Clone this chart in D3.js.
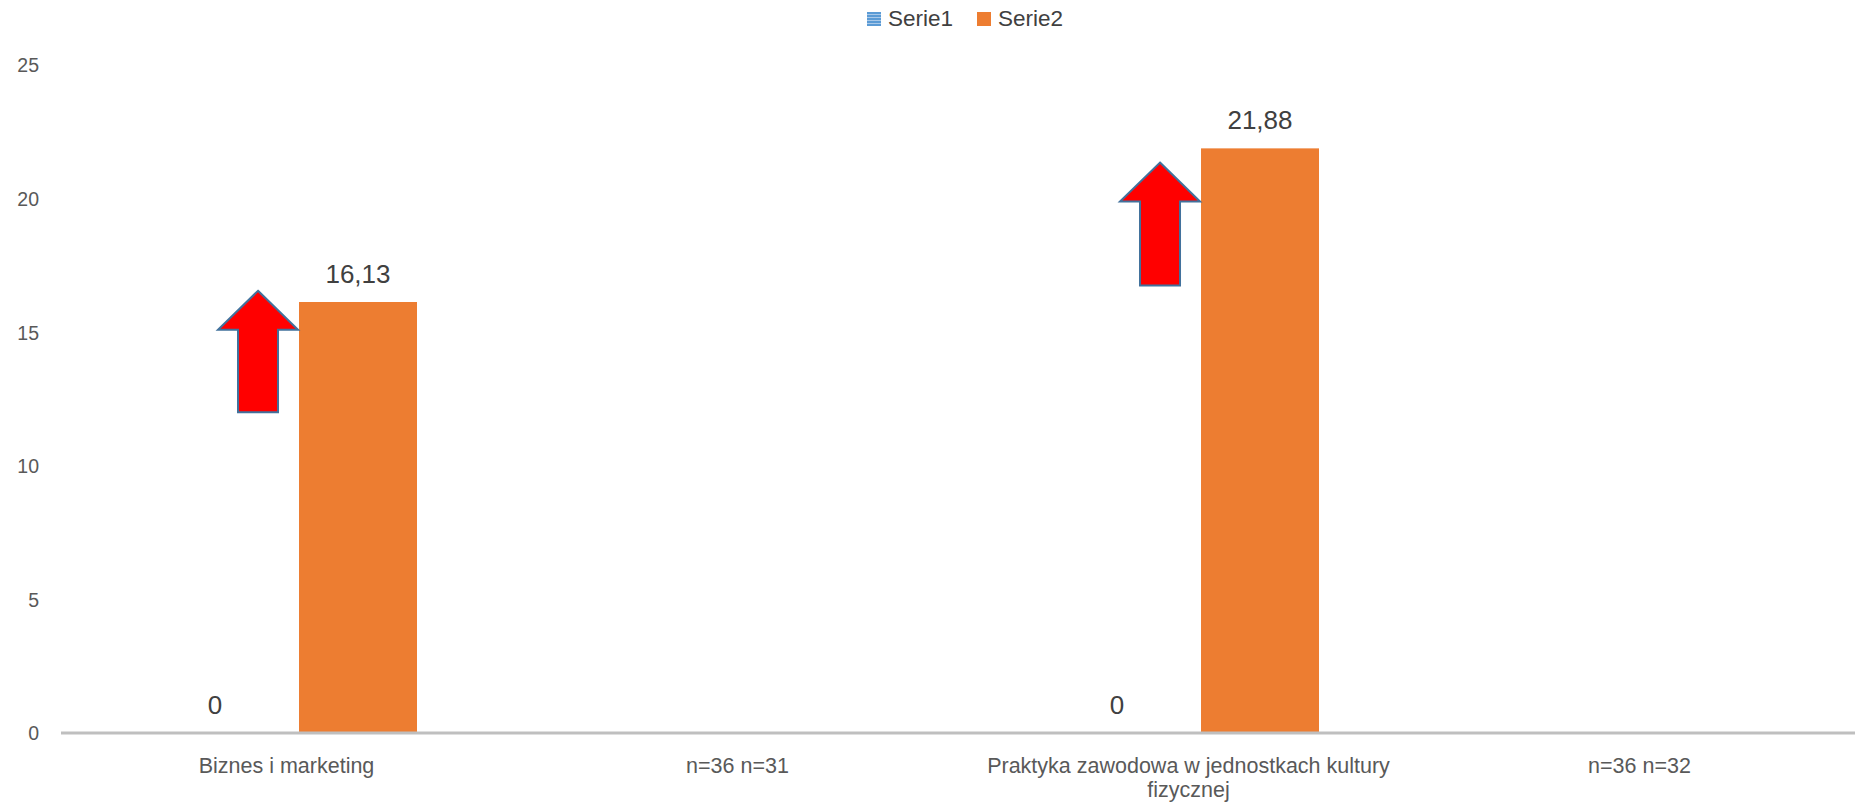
<!DOCTYPE html>
<html>
<head>
<meta charset="utf-8">
<title></title>
<style>
body { margin: 0; background: #fff; }
text { font-family: "Liberation Sans", Arial, sans-serif; }
.tick-label { fill: #595959; font-size: 19.5px; }
.cat-label { fill: #595959; font-size: 21.5px; }
.val-label { fill: #404040; font-size: 26px; }
.legend-label { fill: #404040; font-size: 22.5px; }
</style>
</head>
<body>
<script src="https://cdn.jsdelivr.net/npm/d3@7/dist/d3.min.js"></script>
<script>

// chart data
var categories = ["Biznes i marketing", "n=36 n=31", "Praktyka zawodowa w jednostkach kultury fizycznej", "n=36 n=32"];
var categoryLines = [["Biznes i marketing"], ["n=36 n=31"], ["Praktyka zawodowa w jednostkach kultury", "fizycznej"], ["n=36 n=32"]];
var seriesNames = ["Serie1", "Serie2"];
var serie1 = [0, null, 0, null];
var serie2 = [16.13, null, 21.88, null];
var yTicks = [0, 5, 10, 15, 20, 25];

// red arrow annotations (value of tip / base, which category)
var arrowCategory = [0, 2];
var arrowTip = [16.55, 21.35];
var arrowBase = [12, 16.75];

var width = 1855,
    height = 807;

var colors = {Serie1: "#5B9BD5", Serie2: "#ED7D31"};

var svg = d3.select("body").append("svg")
    .attr("width", width)
    .attr("height", height);

// striped fill for Serie1 legend swatch
var pat = svg.append("defs").append("pattern")
    .attr("id", "stripes")
    .attr("patternUnits", "userSpaceOnUse")
    .attr("width", 4)
    .attr("height", 3);
pat.append("rect").attr("width", 4).attr("height", 3).attr("fill", "#5B9BD5");
pat.append("rect").attr("y", 2).attr("width", 4).attr("height", 1).attr("fill", "#A9C9E9");

var x0 = d3.scaleBand()
    .domain(categories)
    .range([61, 1865])
    .padding(0);

var x1 = d3.scaleBand()
    .domain(seriesNames)
    .range([x0.bandwidth() / 2 - 130.5, x0.bandwidth() / 2 + 130.5])
    .paddingInner(0.175)
    .paddingOuter(0);

var y = d3.scaleLinear()
    .domain([0, 25])
    .range([733, 65]);

var locale = d3.formatLocale({decimal: ",", thousands: " ", grouping: [3], currency: ["", " zł"]});
var fmt = function(v) { return v === 0 ? "0" : locale.format(".2f")(v); };

// y axis labels (no gridlines in the original)
var yAxis = d3.axisLeft(y).tickValues(yTicks).tickSize(0).tickPadding(0);
var yg = svg.append("g")
    .attr("transform", "translate(39,0)")
    .call(yAxis);
yg.select(".domain").remove();
yg.selectAll("text")
    .attr("class", "tick-label")
    .attr("dy", "0.35em")
    .style("font-family", null)
    .attr("font-size", null)
    .attr("font-family", null);

// build rows
var rows = categories.map(function(c, i) {
  return {cat: c, lines: categoryLines[i], values: [
    {key: "Serie1", value: serie1[i]},
    {key: "Serie2", value: serie2[i]}
  ]};
});

var groups = svg.append("g").selectAll("g")
    .data(rows)
    .enter().append("g")
    .attr("transform", function(d) { return "translate(" + x0(d.cat) + ",0)"; });

groups.selectAll("rect")
    .data(function(d) { return d.values.filter(function(v) { return v.value != null; }); })
    .enter().append("rect")
    .attr("x", function(d) { return x1(d.key); })
    .attr("width", x1.bandwidth())
    .attr("y", function(d) { return y(d.value); })
    .attr("height", function(d) { return y(0) - y(d.value); })
    .attr("fill", function(d) { return colors[d.key]; });

groups.selectAll(".val-label")
    .data(function(d) { return d.values.filter(function(v) { return v.value != null; }); })
    .enter().append("text")
    .attr("class", "val-label")
    .attr("text-anchor", "middle")
    .attr("x", function(d) { return x1(d.key) + x1.bandwidth() / 2; })
    .attr("y", function(d) { return y(d.value) - 19; })
    .text(function(d) { return fmt(d.value); });

// x axis line
svg.append("line")
    .attr("x1", 61).attr("x2", width)
    .attr("y1", y(0)).attr("y2", y(0))
    .attr("stroke", "#BFBFBF")
    .attr("stroke-width", 3);

// category labels
groups.each(function(d) {
  var t = d3.select(this).append("text")
      .attr("class", "cat-label")
      .attr("text-anchor", "middle");
  d.lines.forEach(function(line, k) {
    t.append("tspan")
        .attr("x", x0.bandwidth() / 2)
        .attr("y", 773 + k * 24)
        .text(line);
  });
});

// arrows next to Serie2 bars
arrowCategory.forEach(function(ci, i) {
  var bx = x0(categories[ci]) + x1("Serie2");
  var cx = bx - 41,
      tipY = y(arrowTip[i]),
      baseY = y(arrowBase[i]),
      wingY = tipY + 39;
  var pts = [
    [cx, tipY], [cx + 40, wingY], [cx + 20, wingY], [cx + 20, baseY],
    [cx - 20, baseY], [cx - 20, wingY], [cx - 40, wingY]
  ];
  svg.append("polygon")
      .attr("points", pts.map(function(p) { return p.join(","); }).join(" "))
      .attr("fill", "#FF0000")
      .attr("stroke", "#41719C")
      .attr("stroke-width", 2)
      .attr("stroke-linejoin", "miter");
});

// legend
var legend = svg.append("g").attr("transform", "translate(867,0)");
var li = legend.selectAll("g")
    .data(seriesNames)
    .enter().append("g")
    .attr("transform", function(d, i) { return "translate(" + (i * 110) + ",0)"; });
li.append("rect")
    .attr("y", 12)
    .attr("width", 14).attr("height", 14)
    .attr("fill", function(d) { return d === "Serie1" ? "url(#stripes)" : colors[d]; });
li.append("text")
    .attr("class", "legend-label")
    .attr("x", 21)
    .attr("y", 26)
    .text(function(d) { return d; });

</script>
</body>
</html>
